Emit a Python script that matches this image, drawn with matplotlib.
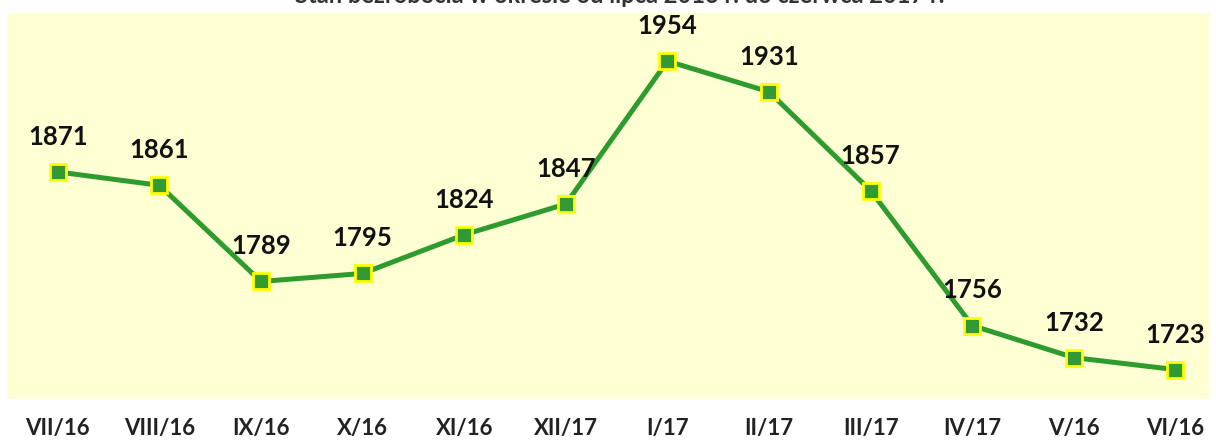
import matplotlib
matplotlib.use("Agg")
import matplotlib.pyplot as plt

months = ['VII/16', 'VIII/16', 'IX/16', 'X/16', 'XI/16', 'XII/17',
          'I/17', 'II/17', 'III/17', 'IV/17', 'V/16', 'VI/16']
unemployed = [1871, 1861, 1789, 1795, 1824, 1847, 1954, 1931, 1857, 1756, 1732, 1723]
title = 'Stan bezrobocia w okresie od lipca 2016 r. do czerwca 2017 r.'

plt.rcParams['font.family'] = ['Lato', 'DejaVu Sans']

fig = plt.figure(figsize=(12.16, 4.40), dpi=100)
ax = fig.add_axes([7/1216, 41/440, 1203/1216, 386/440])
ax.set_facecolor('#FFFFD4')

x = list(range(len(months)))
ax.plot(x, unemployed, color='#2E9B2E', lw=3.6, marker='s', ms=12,
        mfc='#339933', mec='#FFFF00', mew=2, zorder=3)

for xi, v in zip(x, unemployed):
    ax.annotate(str(v), (xi, v), xytext=(0, 19.5), textcoords='offset points',
                ha='center', va='baseline', fontsize=18.5, fontweight='bold',
                color='#111111')

ax.set_xlim(-0.5, 11.34)
ax.set_ylim(1701, 1990)
ax.set_yticks([])
ax.set_xticks(x)
ax.set_xticklabels(months, fontsize=16, fontweight='bold', color='#222222')
ax.tick_params(axis='x', length=0, pad=14)
for s in ax.spines.values():
    s.set_visible(False)

fig.text(0.51, 1 - 3/440, title, ha='center', va='baseline',
         fontsize=17, fontweight='bold', color='#333333')

fig.savefig('out.png', dpi=100)
